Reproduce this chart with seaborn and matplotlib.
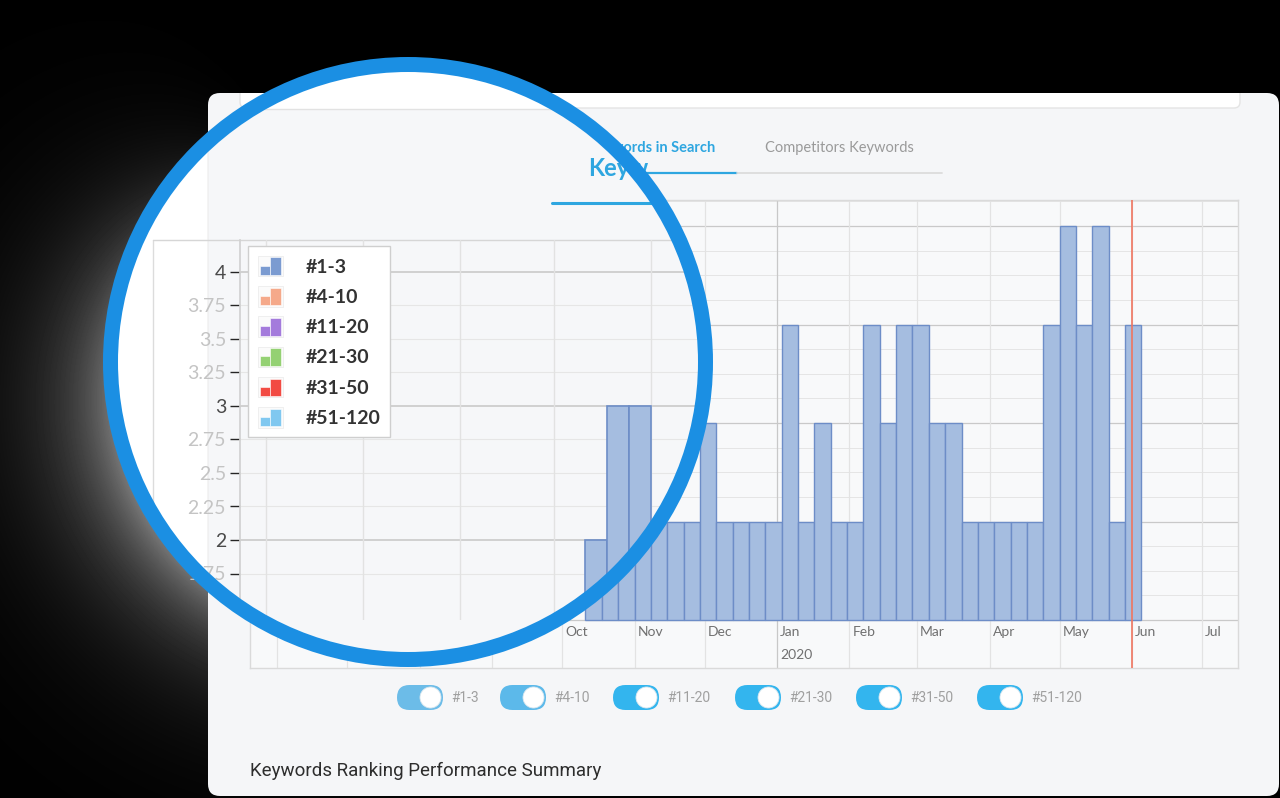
import numpy as np
import matplotlib
matplotlib.use("Agg")
import matplotlib.pyplot as plt
import matplotlib.dates as mdates
from matplotlib.patches import Rectangle, FancyBboxPatch, Circle
from matplotlib.legend_handler import HandlerBase
from matplotlib.lines import Line2D
import seaborn as sns

# ---------------- data ----------------
week_start = ["2019-10-11", "2019-10-18", "2019-10-25", "2019-11-01", "2019-11-08", "2019-11-15",
              "2019-11-22", "2019-11-29", "2019-12-06", "2019-12-13", "2019-12-20", "2019-12-27",
              "2020-01-03", "2020-01-10", "2020-01-17", "2020-01-24", "2020-01-31", "2020-02-07",
              "2020-02-14", "2020-02-21", "2020-02-28", "2020-03-06", "2020-03-13", "2020-03-20",
              "2020-03-27", "2020-04-03", "2020-04-10", "2020-04-17", "2020-04-24", "2020-05-01",
              "2020-05-08", "2020-05-15", "2020-05-22", "2020-05-29"]
rank_1_3 = [2, 3, 3, 2, 2, 2, 2, 3, 2, 2, 2, 2, 4, 2, 3, 2, 2, 4, 3, 4, 4, 3, 3, 2, 2,
            2, 2, 2, 4, 5, 4, 5, 2, 4]
baseline = 1

month_starts = ["2019-06-01", "2019-07-01", "2019-08-01", "2019-09-01", "2019-10-01",
                "2019-11-01", "2019-12-01", "2020-01-01", "2020-02-01", "2020-03-01",
                "2020-04-01", "2020-05-01", "2020-06-01", "2020-07-01"]
month_labels = ["Jun", "Jul", "Aug", "Sep", "Oct", "Nov", "Dec", "Jan", "Feb", "Mar",
                "Apr", "May", "Jun", "Jul"]
year_label = ("2020-01-01", "2020")
today = "2020-06-01"

series_names = ["#1-3", "#4-10", "#11-20", "#21-30", "#31-50", "#51-120"]
series_colors = ["#7b9bd1", "#f5a98a", "#a47bdc", "#94d173", "#f24b43", "#80c8f0"]
toggle_colors = ["#6cbce8", "#5cb9ea", "#33b5ee", "#33b5ee", "#33b5ee", "#33b5ee"]

tabs = ["Keywords in Search", "Competitors Keywords"]
summary_title = "Keywords Ranking Performance Summary"

# ---------------- setup ----------------
W, H = 1280, 798
sns.set_theme(style="white")
plt.rcParams["font.family"] = ["Lato", "DejaVu Sans"]

fig = plt.figure(figsize=(W / 100, H / 100), dpi=100)
fig.patch.set_facecolor("black")


def rect(l, t, r, b):
    return [l / W, 1 - b / H, (r - l) / W, (b - t) / H]


def pixel_axes(z):
    a = fig.add_axes([0, 0, 1, 1], zorder=z)
    a.set_xlim(0, W)
    a.set_ylim(H, 0)
    a.axis("off")
    a.patch.set_visible(False)
    return a


# ---------------- background layer ----------------
bg = pixel_axes(0)
cx, cy, r_clip = 408, 362, 298
yy, xx = np.mgrid[0:H, 0:W]
dx, dy = xx - cx, yy - cy
d = np.hypot(dx, dy)
ang = np.arctan2(dy, dx)
dirw = np.clip(np.cos(ang - np.deg2rad(152)), 0, None) ** 1.6
glow = 0.50 * dirw * np.exp(-np.clip(d - 300, 0, None) / 62)
bg.imshow(glow, cmap="gray", vmin=0, vmax=1, extent=(0, W, H, 0), origin="upper",
          interpolation="bilinear", zorder=0)
bg.set_xlim(0, W)
bg.set_ylim(H, 0)

card = FancyBboxPatch((208, 93), 1071, 703, boxstyle="round,pad=0,rounding_size=12",
                      facecolor="#f5f6f8", edgecolor="none", zorder=1)
bg.add_patch(card)
panel = FancyBboxPatch((240, 70), 1000, 38, boxstyle="round,pad=0,rounding_size=6",
                       facecolor="white", edgecolor="#e4e4e4", lw=1, zorder=2)
bg.add_patch(panel)
panel.set_clip_path(card)

# tabs
bg.text(651, 148, tabs[0], ha="center", va="center", fontsize=10.5, color="#2ea6e0",
        fontweight="bold", zorder=3)
bg.text(839, 148, tabs[1], ha="center", va="center", fontsize=10.5, color="#9a9a9a", zorder=3)
bg.add_line(Line2D([565, 737], [173, 173], color="#2ea6e0", lw=1.6, zorder=3))
bg.add_line(Line2D([737, 942], [173, 173], color="#dcdcdc", lw=1.3, zorder=3))

# toggles
pill_x = [397, 500, 613, 735, 856, 977]
for px, name, tc in zip(pill_x, series_names, toggle_colors):
    bg.add_patch(FancyBboxPatch((px, 685), 46, 25, boxstyle="round,pad=0,rounding_size=12.5",
                                facecolor=tc, edgecolor="none", zorder=3))
    bg.add_patch(Circle((px + 46 - 12.5, 697.5), 10.5, facecolor="white",
                        edgecolor="#d8e6ee", lw=0.6, zorder=4))
    bg.text(px + 54, 698, name, ha="left", va="center", fontsize=10, color="#a0a0a0",
            family=["Roboto", "DejaVu Sans"], zorder=4)

bg.text(250, 771, summary_title, ha="left", va="center", fontsize=13.5, color="#2d2d2d",
        family=["Roboto", "DejaVu Sans"], zorder=3)

# ---------------- main chart ----------------
ax = fig.add_axes(rect(250, 200, 1238, 668), zorder=1)
x_week = mdates.date2num(np.array(week_start, dtype="datetime64[D]"))
x_month = mdates.date2num(np.array(month_starts, dtype="datetime64[D]"))
x_jan = mdates.date2num(np.datetime64("2020-01-01"))
x_jun = mdates.date2num(np.datetime64("2020-06-01"))
ppd = (1132 - 777) / (x_jun - x_jan)
ax.set_xlim(x_jan - (777 - 250) / ppd, x_jan + (1238 - 777) / ppd)
ppu = 98.5
ax.set_ylim(baseline - 48 / ppu, baseline + 420 / ppu)
ax.set_facecolor("#f8f9fa")
for s in ax.spines.values():
    s.set_color("#dadada")
    s.set_linewidth(1)
ax.set_xticks([])
ax.set_yticks([])

for lv in np.arange(1, 5.26, 0.25):
    major = abs(lv - round(lv)) < 1e-6
    ax.axhline(lv, color="#c9c9c9" if major else "#e5e5e5", lw=0.9 if major else 0.7, zorder=1)
for xm, lab in zip(x_month, month_labels):
    ax.axvline(xm, color="#c8c8c8" if xm == x_jan else "#e3e3e3", lw=0.9, zorder=1)
    ax.annotate(lab, xy=(xm, 0), xycoords=("data", "axes fraction"), xytext=(3, 36),
                textcoords="offset pixels", ha="left", va="center", fontsize=10,
                color="#707070", annotation_clip=False)
ax.annotate(year_label[1], xy=(mdates.date2num(np.datetime64(year_label[0])), 0),
            xycoords=("data", "axes fraction"), xytext=(3, 13), textcoords="offset pixels",
            ha="left", va="center", fontsize=10, color="#707070", annotation_clip=False)

heights = np.array(rank_1_3) - baseline
ax.bar(x_week, heights, bottom=baseline, width=7, align="edge", facecolor="#a5bde0",
       edgecolor="#6d8dc7", linewidth=1.0, zorder=3)
ax.axvline(mdates.date2num(np.datetime64(today)), color="#f0755f", lw=1.2, zorder=4)

# ---------------- magnifier interior ----------------
ov = pixel_axes(2)
ov.add_patch(Circle((cx, cy), r_clip + 2, facecolor="white", edgecolor="none", zorder=0))
clip = Circle((cx, cy), r_clip, transform=ov.transData, facecolor="none", edgecolor="none")
ov.add_patch(clip)
clip.set_visible(False)

items = [
    FancyBboxPatch((208, 93), 1100, 800, boxstyle="round,pad=0,rounding_size=14",
                   facecolor="#f6f7f9", edgecolor="#ececec", lw=0.8, zorder=1),
    Rectangle((238, 40), 1010, 69, facecolor="white", edgecolor="#e2e2e2", lw=1, zorder=2),
]
for it in items:
    ov.add_patch(it)
    it.set_clip_path(clip)
lines = [
    Line2D([153, 153], [240, 720], color="#dcdcdc", lw=1, zorder=2),
    Line2D([153, 800], [240, 240], color="#d6d6d6", lw=1, zorder=2),
    Line2D([552, 800], [203, 203], color="#2ea6e0", lw=2.2, zorder=2),
]
for ln in lines:
    ov.add_line(ln)
    ln.set_clip_path(clip)
# only the part of the magnified tab title that shows inside the lens
ov.text(588, 168, tabs[0][:4], ha="left", va="center", fontsize=17, color="#2ea6e0",
        fontweight="bold", zorder=3)

# zoomed chart
axz = fig.add_axes(rect(240, 240, 740, 620), zorder=3)
axz.patch.set_visible(False)
x_first = x_week[0]
zppd = 3.13
axz.set_xlim(x_first - (585 - 240) / zppd, x_first + (740 - 585) / zppd)
zppu = 134
axz.set_ylim(2 - 80 / zppu, 2 + 300 / zppu)
for k, s in axz.spines.items():
    s.set_visible(k == "left")
axz.spines["left"].set_color("#d2d2d2")
axz.spines["left"].set_clip_path(clip)

zticks = np.arange(1.75, 4.01, 0.25)
for lv in zticks:
    major = abs(lv - round(lv)) < 1e-6
    hl = axz.axhline(lv, color="#c6c6c6" if major else "#e6e6e6", lw=1.1 if major else 0.8, zorder=1)
    hl.set_clip_path(clip)
for xm in x_month:
    vl = axz.axvline(xm, color="#e2e2e2", lw=1.0, zorder=1)
    vl.set_clip_path(clip)

bars = axz.bar(x_week, heights, bottom=baseline, width=7, align="edge", facecolor="#a5bde0",
               edgecolor="#6d8dc7", linewidth=1.2, zorder=3)
for b in bars:
    b.set_clip_path(clip)

axz.set_xticks([])
axz.set_yticks(zticks)
axz.set_yticklabels([f"{v:g}" for v in zticks])
axz.tick_params(axis="y", length=7, width=1, pad=3, labelsize=14, left=True)
for tk, lv in zip(axz.yaxis.get_major_ticks(), zticks):
    major = abs(lv - round(lv)) < 1e-6
    tk.label1.set_color("#4a4a4a" if major else "#c4c4c4")
    tk.tick1line.set_color("#bdbdbd" if major else "#dedede")


class BarIconHandler(HandlerBase):
    def create_artists(self, legend, orig_handle, xdescent, ydescent, width, height, fontsize, trans):
        c = orig_handle.get_facecolor()
        x0, y0 = -xdescent, -ydescent
        box = Rectangle((x0, y0), width, height, facecolor="#fbfbfb", edgecolor="#ededed",
                        lw=0.6, transform=trans)
        b1 = Rectangle((x0 + 0.08 * width, y0 + 0.06 * height), 0.42 * width, 0.46 * height,
                       facecolor=c, edgecolor="white", lw=0.4, transform=trans)
        b2 = Rectangle((x0 + 0.5 * width, y0 + 0.06 * height), 0.42 * width, 0.86 * height,
                       facecolor=c, edgecolor="white", lw=0.4, transform=trans)
        return [box, b1, b2]


handles = [Rectangle((0, 0), 1, 1, facecolor=c) for c in series_colors]
leg = axz.legend(handles, series_names, loc="upper left",
                 bbox_to_anchor=(248 / W, 1 - 246 / H), bbox_transform=fig.transFigure,
                 frameon=True, fancybox=False, edgecolor="#cfcfcf", facecolor="white",
                 framealpha=1, fontsize=14, handlelength=1.3, handleheight=1.25,
                 handletextpad=1.15, labelspacing=0.5, borderpad=0.5, borderaxespad=0,
                 handler_map={Rectangle: BarIconHandler()},
                 prop={"family": ["Lato", "DejaVu Sans"], "weight": "bold", "size": 14})
for txt in leg.get_texts():
    txt.set_color("#333333")
leg.set_zorder(10)

# ---------------- magnifier ring ----------------
top = pixel_axes(5)
top.add_patch(Circle((cx, cy), 297.5, fill=False, edgecolor="#1b8fe3", lw=15 * 0.72))

fig.savefig("out.png", dpi=100, facecolor="black")
